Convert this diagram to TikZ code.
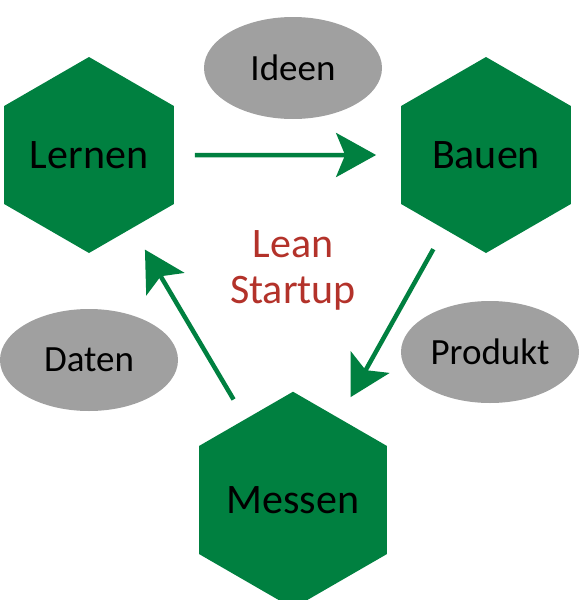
\documentclass[tikz,border=0pt]{standalone}
\usepackage{fontspec}
\setmainfont{Carlito}
\usetikzlibrary{arrows.meta,shapes.geometric,positioning}
\definecolor{leaf}{HTML}{008040}
\definecolor{stone}{HTML}{A0A0A0}
\definecolor{brick}{HTML}{B3322A}

\begin{document}
\begin{tikzpicture}[x=1pt,y=-1pt,>={Stealth[length=40pt,width=44pt,inset=9pt]},
  hexa/.style={regular polygon,regular polygon sides=6,shape border rotate=30,minimum size=196pt,inner sep=0pt,outer sep=0pt,fill=leaf,font=\fontsize{42}{48}\selectfont},
  blob/.style={ellipse,minimum width=178pt,minimum height=102pt,inner sep=0pt,fill=stone,font=\fontsize{37}{42}\selectfont},
  flow/.style={->,draw=leaf,fill=leaf,line width=4.5pt}]
\useasboundingbox (0,0) rectangle (580,600);
\foreach \nm/\x/\y/\lab in {lern/89/155/Lernen,bau/486/155/Bauen,mess/293/500/Messen}
  \node[hexa] (\nm) at (\x,\y) {\lab};
\foreach \nm/\x/\y/\lab in {ideen/293/68/Ideen,daten/89/360/Daten,prod/490/352/Produkt}
  \node[blob] (\nm) at (\x,\y) {\lab};
\node[align=center,text=brick,font=\fontsize{42}{46}\selectfont] (lean) at (293,270) {Lean\\Startup};
\draw[flow,shorten <=21pt,shorten >=25pt] (lern) -- (bau);
\draw[flow,shorten <=23pt,shorten >=24pt] (bau) -- (mess);
\draw[flow,shorten <=23pt,shorten >=25pt] (mess) -- (lern);
\end{tikzpicture}
\end{document}
